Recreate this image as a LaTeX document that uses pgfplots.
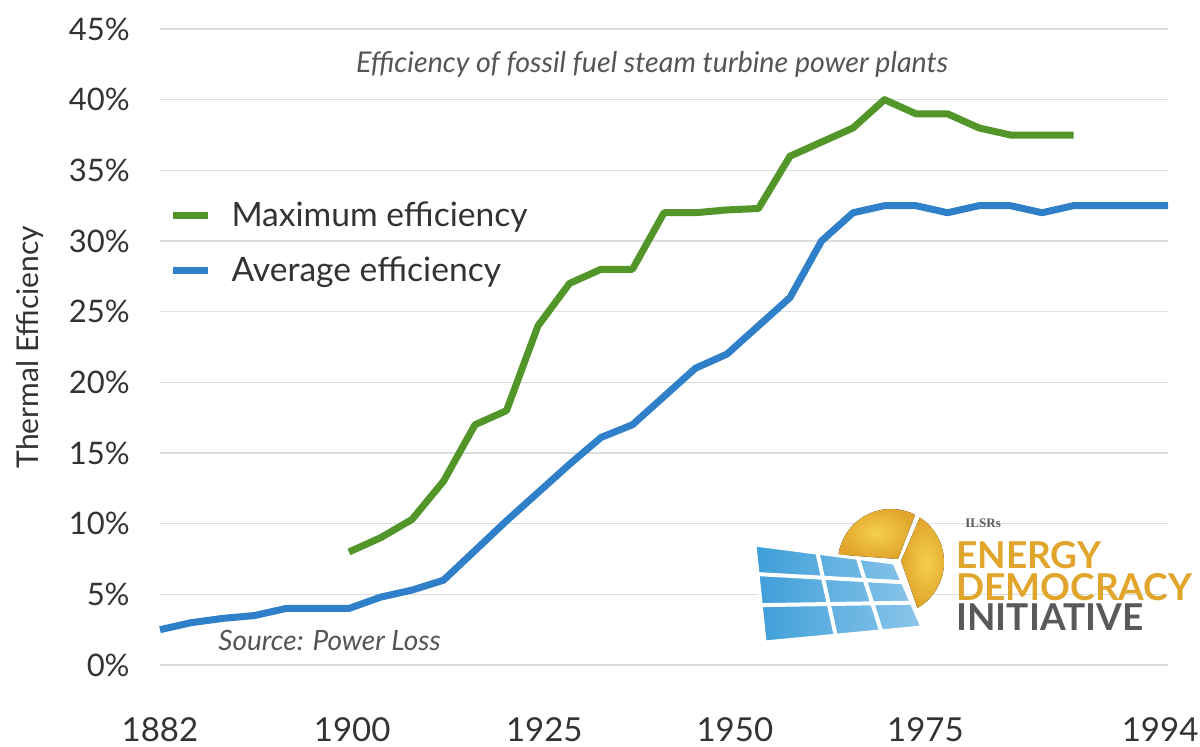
\documentclass[border=0pt]{standalone}
\usepackage{fontspec}
\setmainfont{Lato}
\usepackage{pgfplots}
\pgfplotsset{compat=1.18}
\usetikzlibrary{calc}
\definecolor{grn}{HTML}{52962A}
\definecolor{blu}{HTML}{2F80C9}
\definecolor{gridc}{HTML}{DDDDDD}
\definecolor{txt}{HTML}{333333}
\definecolor{ttl}{HTML}{555555}
\definecolor{gold}{HTML}{E0A52A}
\definecolor{goldlight}{HTML}{F4CF4E}
\definecolor{pan1}{HTML}{3E9ED8}
\definecolor{pan2}{HTML}{8CC6EA}
\definecolor{logogray}{HTML}{58595B}
\begin{document}
\begin{tikzpicture}
\useasboundingbox (-80pt,-40.5pt) rectangle (520pt,332.5pt);
\begin{axis}[
  at={(0pt,0pt)}, anchor=south west,
  scale only axis, width=504pt, height=318pt,
  xmin=0, xmax=32, ymin=0, ymax=45,
  clip=false,
  axis line style={draw=none}, tick style={draw=none},
  /pgf/number format/assume math mode=true,
  ytick={0,5,...,45},
  yticklabel={\pgfmathprintnumber{\tick}\%},
  xtick={0,6.1,12.2,18.25,24.3,31.75},
  xticklabels={1882,1900,1925,1950,1975,1994},
  ymajorgrids, major grid style={gridc, line width=0.8pt},
  yticklabel style={font=\fontsize{15.5}{18}\selectfont, color=txt, anchor=east, inner sep=0pt, xshift=-15pt},
  xticklabel style={font=\fontsize{16.5}{19}\selectfont, color=txt, anchor=center, inner sep=0pt, yshift=-32.5pt},
  ylabel={Thermal Efficiency},
  ylabel style={at={(rel axis cs:0,0.5)}, anchor=center, yshift=65pt, font=\fontsize{15}{17}\selectfont, color=txt},
  legend style={at={(axis cs:0.29,29.85)}, anchor=west, draw=none, fill=none,
    font=\fontsize{16.8}{19}\selectfont, text=txt, row sep=10pt, column sep=8pt, inner sep=0pt},
  legend cell align=left,
  legend image code/.code={\draw[#1, line width=3.5pt] (0pt,0pt) -- (17.5pt,0pt);},
]
\addplot[grn, line width=3.5pt, line join=round] coordinates {
(6,8.0) (7,9.0) (8,10.3) (9,13.0) (10,17.0) (11,18.0) (12,24.0) (13,27.0) (14,28.0) (15,28.0)
(16,32.0) (17,32.0) (18,32.2) (19,32.3) (20,36.0) (21,37.0) (22,38.0) (23,40.0) (24,39.0)
(25,39.0) (26,38.0) (27,37.5) (28,37.5) (29,37.5)};
\addlegendentry{Maximum efficiency}
\addplot[blu, line width=3.5pt, line join=round] coordinates {
(0,2.5) (1,3.0) (2,3.3) (3,3.5) (4,4.0) (5,4.0) (6,4.0) (7,4.8) (8,5.3) (9,6.0) (10,8.1)
(11,10.2) (12,12.2) (13,14.2) (14,16.1) (15,17.0) (16,19.0) (17,21.0) (18,22.0) (19,24.0)
(20,26.0) (21,30.0) (22,32.0) (23,32.5) (24,32.5) (25,32.0) (26,32.5) (27,32.5) (28,32.0)
(29,32.5) (30,32.5) (31,32.5) (32,32.5)};
\addlegendentry{Average efficiency}
\node[font=\itshape\fontsize{14.3}{16}\selectfont, color=ttl] at (axis cs:15.62,42.5) {Efficiency of fossil fuel steam turbine power plants};
\node[anchor=west, inner sep=0pt, font=\itshape\fontsize{14}{16}\selectfont, color=ttl] at (axis cs:1.84,1.77) {Source: Power Loss};
\end{axis}
% logo
\fill[shading=radial, inner color=goldlight, outer color=gold] (369pt,53pt) -- ([shift={(63:26.5pt)}]365.5pt,51.5pt) arc[start angle=63, end angle=172, radius=26.5pt] -- cycle;
\fill[shading=radial, inner color=goldlight, outer color=gold] (370.5pt,52pt) -- ([shift={(-60:26.5pt)}]365.5pt,51.5pt) arc[start angle=-60, end angle=57, radius=26.5pt] -- cycle;
\coordinate (TL) at (297.5pt,60pt);
\coordinate (TR) at (367pt,51pt);
\coordinate (BR) at (381pt,19pt);
\coordinate (BL) at (302.5pt,11.5pt);
\shade[left color=pan1, right color=pan2, draw=white, line width=1.5pt] (TL) -- (TR) -- (BR) -- (BL) -- cycle;
\foreach \u in {0.45,0.74} {\draw[white, line width=2pt] ($(TL)!\u!(TR)$) -- ($(BL)!\u!(BR)$);}
\foreach \v in {0.3,0.62} {\draw[white, line width=2pt] ($(TL)!\v!(BL)$) -- ($(TR)!\v!(BR)$);}
\node[anchor=base west, inner sep=0pt, font=\bfseries\fontsize{6.5}{7}\selectfont, color=logogray] at (402.5pt,69pt) {\fontspec{Liberation Serif}ILSRs};
\node[anchor=base west, inner sep=0pt, font=\bfseries\fontsize{18.5}{20}\selectfont, color=gold] at (398pt,48.5pt) {ENERGY};
\node[anchor=base west, inner sep=0pt, font=\bfseries\fontsize{18.5}{20}\selectfont, color=gold] at (398pt,32.5pt) {DEMOCRACY};
\node[anchor=base west, inner sep=0pt, font=\bfseries\fontsize{18.5}{20}\selectfont, color=logogray] at (398pt,17.5pt) {INITIATIVE};
\end{tikzpicture}
\end{document}
